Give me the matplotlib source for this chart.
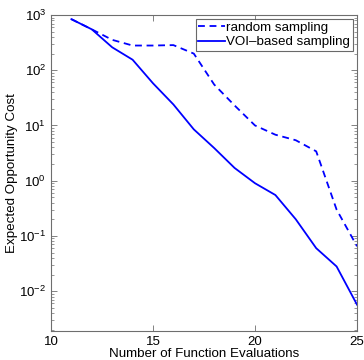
import matplotlib
matplotlib.use("Agg")
import matplotlib.pyplot as plt
from matplotlib.ticker import LogLocator, NullFormatter

plt.rcParams["font.family"] = ["Liberation Sans", "DejaVu Sans"]
plt.rcParams["mathtext.fontset"] = "custom"
plt.rcParams["mathtext.rm"] = "Liberation Sans"
plt.rcParams["mathtext.it"] = "Liberation Sans:italic"

evaluations = [11, 12, 13, 14, 15, 16, 17, 18, 19, 20, 21, 22, 23, 24, 25]
random_cost = [840, 550, 355, 280, 280, 285, 200, 55, 23, 10, 6.8, 5.4, 3.4, 0.30, 0.065]
voi_cost = [840, 550, 260, 155, 58, 24, 8.5, 3.9, 1.7, 0.9, 0.55, 0.2, 0.06, 0.028, 0.0057]

fig = plt.figure(figsize=(3.64, 3.60), dpi=100)
ax = fig.add_axes([51 / 364, 1 - 331 / 360, 306 / 364, 316 / 360])

ax.plot(evaluations, random_cost, color="#0000ff", lw=1.3, dashes=(3.8, 2.6),
        label="random sampling")
ax.plot(evaluations, voi_cost, color="#0000ff", lw=1.3, label="VOI\u2013based sampling")

ax.set_yscale("log")
ax.set_xlim(10, 25)
ax.set_ylim(1.9e-3, 1e3)
ax.set_xticks([10, 15, 20, 25])
ax.yaxis.set_major_locator(LogLocator(base=10, numticks=10))
ax.yaxis.set_minor_locator(LogLocator(base=10, subs=range(2, 10), numticks=100))
ax.yaxis.set_minor_formatter(NullFormatter())

frame_color = "#6e6e6e"
for s in ax.spines.values():
    s.set_color(frame_color)
    s.set_linewidth(0.8)
ax.tick_params(which="both", direction="in", top=True, right=True,
               color=frame_color, labelsize=9.5, labelcolor="black")
ax.tick_params(which="major", length=4, width=0.6, pad=3.5)
ax.tick_params(which="minor", length=2, width=0.5)

ax.set_xlabel("Number of Function Evaluations", fontsize=9.6, labelpad=0)
ax.set_ylabel("Expected Opportunity Cost", fontsize=9.6, labelpad=1)

leg = ax.legend(loc="upper right", fontsize=9.6, handlelength=2.0, handletextpad=0.1,
                borderpad=0.2, labelspacing=0.15, borderaxespad=0.3, fancybox=False,
                frameon=True)
leg.get_frame().set_edgecolor("#444444")
leg.get_frame().set_linewidth(0.8)

fig.savefig("out.png", dpi=100)
